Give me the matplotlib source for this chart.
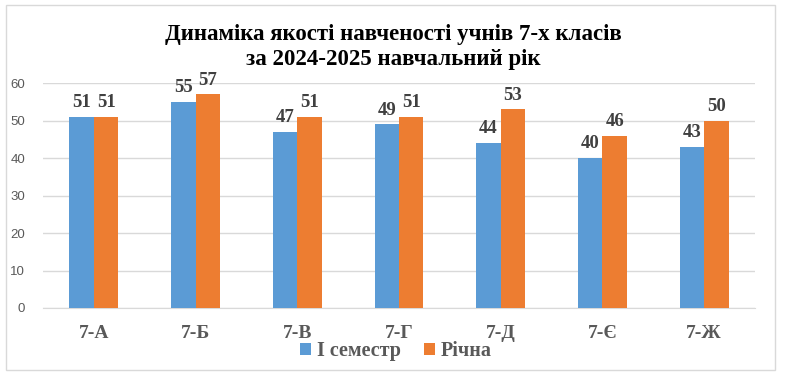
import matplotlib
matplotlib.use("Agg")
import matplotlib.pyplot as plt
import numpy as np
from matplotlib.patches import Rectangle

categories = ["7-А", "7-Б", "7-В", "7-Г", "7-Д", "7-Є", "7-Ж"]
semester = [51, 55, 47, 49, 44, 40, 43]
annual = [51, 57, 51, 51, 53, 46, 50]
series_names = ["І семестр", "Річна"]
title = "Динаміка якості навченості учнів 7-х класів\nза 2024-2025 навчальний рік"

blue = "#5B9BD5"
orange = "#ED7D31"
W, H = 786, 381
fig = plt.figure(figsize=(W / 100, H / 100), dpi=100)
fig.patch.set_facecolor("white")

# border
fig.add_artist(Rectangle((6 / W, 1 - 370 / H), (775 - 6) / W, (370 - 5) / H,
                         transform=fig.transFigure, fill=False,
                         edgecolor="#D9D9D9", linewidth=1.0))

ax = fig.add_axes([43 / W, 1 - 308 / H, (755 - 43) / W, (308 - 83) / H])
x = np.arange(len(categories))
bw = 0.24
b1 = ax.bar(x - bw / 2, semester, bw, color=blue, label=series_names[0], zorder=3)
b2 = ax.bar(x + bw / 2, annual, bw, color=orange, label=series_names[1], zorder=3)

serif = ["Liberation Serif", "DejaVu Serif"]
for bars in (b1, b2):
    for r in bars:
        ax.annotate(f"{int(r.get_height())}",
                    (r.get_x() + r.get_width() / 2, r.get_height()),
                    xytext=(0, 4), textcoords="offset points",
                    ha="center", va="bottom", fontsize=13.5, fontweight="bold",
                    family=serif, color="#404040")

ax.set_xlim(-0.5, len(categories) - 0.5)
ax.set_ylim(0, 60)
ax.set_yticks(range(0, 61, 10))
ax.yaxis.grid(True, color="#D9D9D9", linewidth=1, zorder=0)
for s in ["top", "right", "left"]:
    ax.spines[s].set_visible(False)
ax.spines["bottom"].set_color("#D9D9D9")
ax.tick_params(axis="both", length=0)
ax.tick_params(axis="y", labelsize=9.5, labelcolor="#595959", pad=13)
for t in ax.get_yticklabels():
    t.set_family(["Liberation Sans", "DejaVu Sans"])
ax.set_xticks(x)
ax.set_xticklabels(categories, fontsize=14, fontweight="bold", family=serif,
                   color="#595959")
ax.tick_params(axis="x", pad=12)

fig.text(0.5, 1 - 47 / H, title, ha="center", va="center", fontsize=16.5,
         fontweight="bold", family=serif, color="black", linespacing=1.28)

leg = fig.legend(handles=[b1, b2], labels=series_names, loc="center",
                 bbox_to_anchor=(396 / W, 1 - 351 / H), ncol=2, frameon=False,
                 handlelength=0.55, handleheight=0.55, handletextpad=0.3,
                 columnspacing=1.1,
                 prop={"family": serif, "weight": "bold", "size": 14.5})
for t in leg.get_texts():
    t.set_color("#595959")

fig.savefig("out.png", dpi=100, facecolor="white")
